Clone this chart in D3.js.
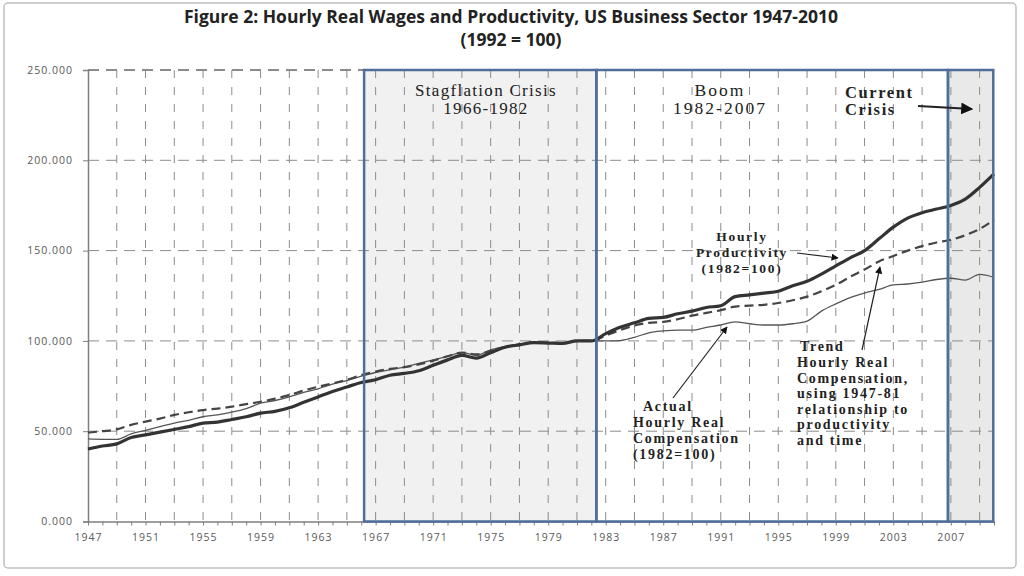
<!DOCTYPE html>
<html>
<head>
<meta charset="utf-8">
<script src="https://cdn.jsdelivr.net/npm/d3@7"></script>
<style>
	body { margin: 0; background: #fff; }
	svg { display: block; }
	.axis text { font-family: "Open Sans", sans-serif; font-size: 10.5px; fill: #595959; letter-spacing: 1px; }
	.axis path, .axis line { stroke: #7f7f7f; }
	.note { font-family: "Liberation Serif", serif; fill: #222; }
</style>
</head>
<body>
<svg id="chart" width="1024" height="576"></svg>
<script>
// years 1947-2010
const years = d3.range(1947, 2011);

// hourly productivity (thick solid line)
const productivity = [
	40.1, 41.8, 43.0, 46.5, 48.0, 49.5, 51.0, 52.5, 54.5, 55.0,
	56.5, 58.0, 60.0, 61.0, 63.0, 66.0, 69.0, 72.0, 74.5, 77.0,
	78.5, 81.0, 82.0, 83.5, 86.5, 89.5, 92.0, 90.5, 93.5, 96.5,
	97.8, 99.0, 98.8, 98.6, 100.0, 100.0, 104.0, 107.5, 110.0, 112.5,
	113.0, 115.0, 116.5, 118.5, 119.5, 124.5, 125.5, 126.5, 127.5, 130.5,
	133.0, 137.0, 141.5, 146.0, 150.0, 156.5, 163.0, 168.0, 171.0, 173.0,
	175.0, 178.5, 185.0, 192.5
];

// actual hourly real compensation (thin solid line)
const actualComp = [
	45.7, 45.5, 45.5, 48.5, 50.5, 52.5, 54.5, 56.0, 58.0, 59.0,
	60.5, 62.5, 65.5, 67.0, 69.0, 71.5, 73.5, 76.0, 78.0, 80.5,
	82.5, 84.0, 85.5, 87.5, 89.5, 91.5, 93.5, 92.0, 95.0, 97.0,
	98.3, 99.3, 99.0, 98.8, 100.0, 100.0, 100.0, 100.2, 102.0, 104.5,
	105.5, 106.0, 106.0, 107.5, 108.8, 110.5, 109.5, 108.8, 108.8, 109.5,
	111.0, 116.5, 120.5, 124.0, 126.5, 128.5, 131.0, 131.5, 132.5, 134.0,
	134.7, 133.7, 136.8, 135.2
];

// trend hourly real compensation (dashed line)
const trendComp = [
	49.2, 50.0, 51.0, 53.5, 55.3, 57.0, 59.0, 60.5, 61.7, 62.5,
	63.6, 65.0, 66.3, 68.0, 70.0, 72.5, 74.6, 76.5, 78.5, 81.0,
	83.0, 84.5, 85.5, 87.0, 89.0, 91.5, 93.5, 92.5, 94.5, 96.5,
	98.0, 99.0, 99.0, 98.8, 100.0, 100.0, 103.0, 106.0, 108.5, 110.0,
	110.5, 112.0, 114.0, 115.5, 117.0, 119.0, 119.5, 120.0, 121.0, 122.5,
	124.5, 127.5, 131.0, 135.5, 139.5, 144.0, 147.0, 150.0, 152.5, 154.5,
	156.0, 158.5, 162.0, 167.0
];

const yTicks = [0, 50, 100, 150, 200, 250];
const xLabelYears = d3.range(1947, 2008, 4);
const gridYears = d3.range(1949, 2010, 2);

// period boxes drawn over the chart (start / end year)
const periodNames = ["stagflation", "boom", "crisis"];
const periodStart = [1966.2, 1982.35, 2006.8];
const periodEnd = [1982.35, 2006.8, 2009.95];

const svg = d3.select("#chart");
const width = +svg.attr("width");
const height = +svg.attr("height");
const margin = { top: 70, right: 30, bottom: 54.5, left: 88 };

const x = d3.scaleLinear()
	.domain([1947, 2010])
	.range([margin.left, width - margin.right]);
const y = d3.scaleLinear()
	.domain([0, 250])
	.range([height - margin.bottom, margin.top]);

// outer frame
svg.append("rect")
	.attr("x", 4).attr("y", 3)
	.attr("width", 1012).attr("height", 565)
	.attr("rx", 4)
	.attr("fill", "#fff")
	.attr("stroke", "#bfbfbf")
	.attr("stroke-width", 1.5);

// title
svg.append("text")
	.attr("x", 511).attr("y", 23)
	.attr("text-anchor", "middle")
	.style("font-family", "'Open Sans', sans-serif")
	.style("font-weight", "bold")
	.style("font-size", "17.5px")
	.style("fill", "#222")
	.text("Figure 2: Hourly Real Wages and Productivity, US Business Sector 1947-2010");
svg.append("text")
	.attr("x", 511).attr("y", 46)
	.attr("text-anchor", "middle")
	.style("font-family", "'Open Sans', sans-serif")
	.style("font-weight", "bold")
	.style("font-size", "17.5px")
	.style("fill", "#222")
	.text("(1992 = 100)");

// shaded backgrounds for the two crisis periods
const shadeFill = { stagflation: "#f1f1f1", boom: "none", crisis: "#e9e9e9" };
const shades = svg.append("g");
periodNames.forEach((name, i) => {
	if (shadeFill[name] === "none") return;
	shades.append("rect")
		.attr("x", x(periodStart[i]))
		.attr("y", y(250))
		.attr("width", x(periodEnd[i]) - x(periodStart[i]))
		.attr("height", y(0) - y(250))
		.attr("fill", shadeFill[name]);
});

// gridlines
const grid = svg.append("g");
grid.selectAll("line.h")
	.data(yTicks.filter((d) => d > 0))
	.join("line")
	.attr("class", "h")
	.attr("x1", x(1947)).attr("x2", x(2010))
	.attr("y1", (d) => y(d)).attr("y2", (d) => y(d))
	.attr("stroke", (d) => (d === 250 ? "#666" : "#8c8c8c"))
	.attr("stroke-width", (d) => (d === 250 ? 1.5 : 1))
	.attr("stroke-dasharray", "11,7");
grid.selectAll("line.v")
	.data(gridYears)
	.join("line")
	.attr("class", "v")
	.attr("x1", (d) => x(d)).attr("x2", (d) => x(d))
	.attr("y1", y(250)).attr("y2", y(0))
	.attr("stroke", "#8c8c8c")
	.attr("stroke-width", 1)
	.attr("stroke-dasharray", "8,9");

// axes
const leftAxis = d3.axisLeft(y)
	.tickValues(yTicks)
	.tickFormat(d3.format(".3f"))
	.tickSize(5)
	.tickPadding(10);
svg.append("g")
	.attr("class", "axis")
	.attr("transform", `translate(${margin.left},0)`)
	.call(leftAxis)
	.call((g) => g.select(".domain").attr("stroke-width", 1.5));

const bottomAxis = d3.axisBottom(x)
	.tickValues(years)
	.tickFormat((d) => (xLabelYears.includes(d) ? d : ""))
	.tickSize(4)
	.tickPadding(8)
	.tickSizeOuter(0);
svg.append("g")
	.attr("class", "axis")
	.attr("transform", `translate(0,${y(0)})`)
	.call(bottomAxis)
	.call((g) => g.select(".domain").attr("stroke-width", 1.5));

// series
const line = (vals) => d3.line()
	.x((d, i) => x(years[i]))
	.y((d) => y(d))
	.curve(d3.curveMonotoneX)(vals);

svg.append("path")
	.attr("d", line(actualComp))
	.attr("fill", "none")
	.attr("stroke", "#555")
	.attr("stroke-width", 1.3);
svg.append("path")
	.attr("d", line(trendComp))
	.attr("fill", "none")
	.attr("stroke", "#444")
	.attr("stroke-width", 2.2)
	.attr("stroke-dasharray", "9,5");
svg.append("path")
	.attr("d", line(productivity))
	.attr("fill", "none")
	.attr("stroke", "#333")
	.attr("stroke-width", 3.2);

// period box borders
const borders = svg.append("g");
periodNames.forEach((name, i) => {
	borders.append("rect")
		.attr("x", x(periodStart[i]))
		.attr("y", y(250))
		.attr("width", x(periodEnd[i]) - x(periodStart[i]))
		.attr("height", y(0) - y(250))
		.attr("fill", "none")
		.attr("stroke", "#4f6e9c")
		.attr("stroke-width", 2.5);
});

// arrow marker
svg.append("defs")
	.append("marker")
	.attr("id", "arrow")
	.attr("viewBox", "0 0 10 10")
	.attr("refX", 9).attr("refY", 5)
	.attr("markerWidth", 6).attr("markerHeight", 6)
	.attr("orient", "auto")
	.append("path")
	.attr("d", "M0,0 L10,5 L0,10 z")
	.attr("fill", "#111");

function note(lines, xPos, yPos, opts) {
	const t = svg.append("text")
		.attr("class", "note")
		.attr("text-anchor", opts.anchor || "start")
		.style("font-size", opts.size + "px")
		.style("letter-spacing", (opts.ls || 0) + "px")
		.style("font-weight", opts.bold ? "bold" : "normal");
	lines.forEach((s, i) => {
		t.append("tspan")
			.attr("x", xPos)
			.attr("y", yPos + i * opts.lh)
			.text(s);
	});
}

function arrow(x1, y1, x2, y2, w) {
	svg.append("line")
		.attr("x1", x1).attr("y1", y1)
		.attr("x2", x2).attr("y2", y2)
		.attr("stroke", "#222")
		.attr("stroke-width", w)
		.attr("marker-end", "url(#arrow)");
}

note(["Stagflation Crisis", "1966-1982"], 486, 96, { size: 17, lh: 18, anchor: "middle", ls: 1.3 });
note(["Boom", "1982-2007"], 720, 96, { size: 17.5, lh: 18, anchor: "middle", ls: 2 });
note(["Current", "Crisis"], 845, 98, { size: 16.5, lh: 17, bold: true, ls: 1.6 });
arrow(918, 106, 972, 109, 2);

note(["Hourly", "Productivity", "(1982=100)"], 742, 241, { size: 13.5, lh: 16, anchor: "middle", bold: true, ls: 1.7 });
arrow(797, 253, 838, 258, 1.2);

note(["Actual"], 643, 411, { size: 14, lh: 16, bold: true, ls: 1.7 });
note(["Hourly Real", "Compensation", "(1982=100)"], 633, 427, { size: 14, lh: 16, bold: true, ls: 1.7 });
arrow(673, 398, 727, 327, 1.2);

note(["Trend"], 800, 351, { size: 14, lh: 16, bold: true, ls: 1.7 });
note(["Hourly Real", "Compensation,", "using 1947-81", "relationship to", "productivity", "and time"],
	797, 367, { size: 14, lh: 15.5, bold: true, ls: 1.7 });
arrow(862, 350, 880, 267, 1.2);
</script>
</body>
</html>
